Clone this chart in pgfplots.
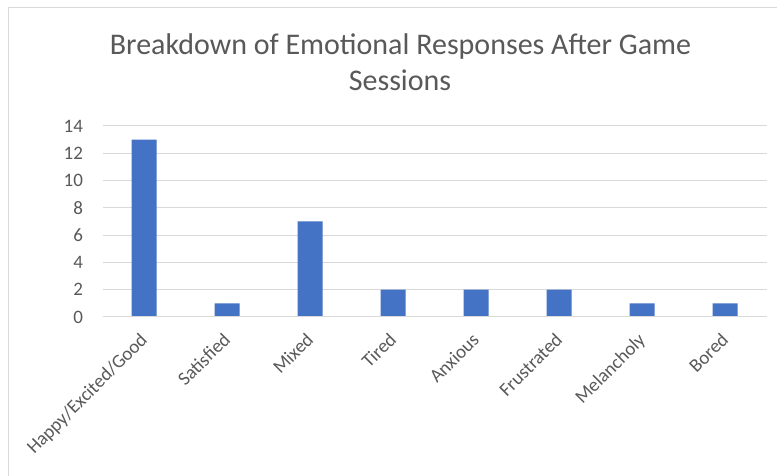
\documentclass[border=0pt]{standalone}
\usepackage{fontspec}
\setmainfont{Carlito}
\usepackage{pgfplots}
\pgfplotsset{compat=1.18}
\definecolor{barblue}{HTML}{4472C4}
\definecolor{gridgray}{HTML}{D9D9D9}
\definecolor{txtgray}{HTML}{595959}
\begin{document}
\begin{tikzpicture}[x=1bp,y=1bp]
\useasboundingbox (0,0) rectangle (777,476);
\fill[white] (0,0) rectangle (777,476);
\draw[gridgray, line width=1bp] (8,-2) -- (8,468) -- (779,468);
\node[txtgray, font=\fontsize{30bp}{36bp}\selectfont] at (400.5,429) {Breakdown of Emotional Responses After Game};
\node[txtgray, font=\fontsize{30bp}{36bp}\selectfont] at (400,396) {Sessions};
\begin{axis}[
  at={(102.5bp,159bp)}, anchor=south west,
  scale only axis, width=664bp, height=191bp,
  xmin=-0.5, xmax=7.5, ymin=0, ymax=14,
  ytick={0,2,...,14},
  xtick={0,...,7},
  xticklabels={Happy/Excited/Good,Satisfied,Mixed,Tired,Anxious,Frustrated,Melancholy,Bored},
  axis line style={draw=none},
  axis x line*=bottom,
  ymajorgrids, grid style={gridgray, line width=1bp},
  major tick length=0pt,
  tick style={draw=none},
  /pgf/number format/assume math mode=true,
  ticklabel style={txtgray, font=\fontsize{19bp}{22bp}\selectfont},
  xticklabel style={xshift=-5bp, yshift=-13bp, rotate=45, anchor=north east, inner sep=1bp},
  yticklabel style={xshift=-16bp},
  ybar, bar width=25bp,
]
\addplot[fill=barblue, draw=none] coordinates {(0,13) (1,1) (2,7) (3,2) (4,2) (5,2) (6,1) (7,1)};
\draw[gridgray, line width=1bp] (axis cs:-0.5,0) -- (axis cs:7.5,0);
\end{axis}
\end{tikzpicture}
\end{document}
